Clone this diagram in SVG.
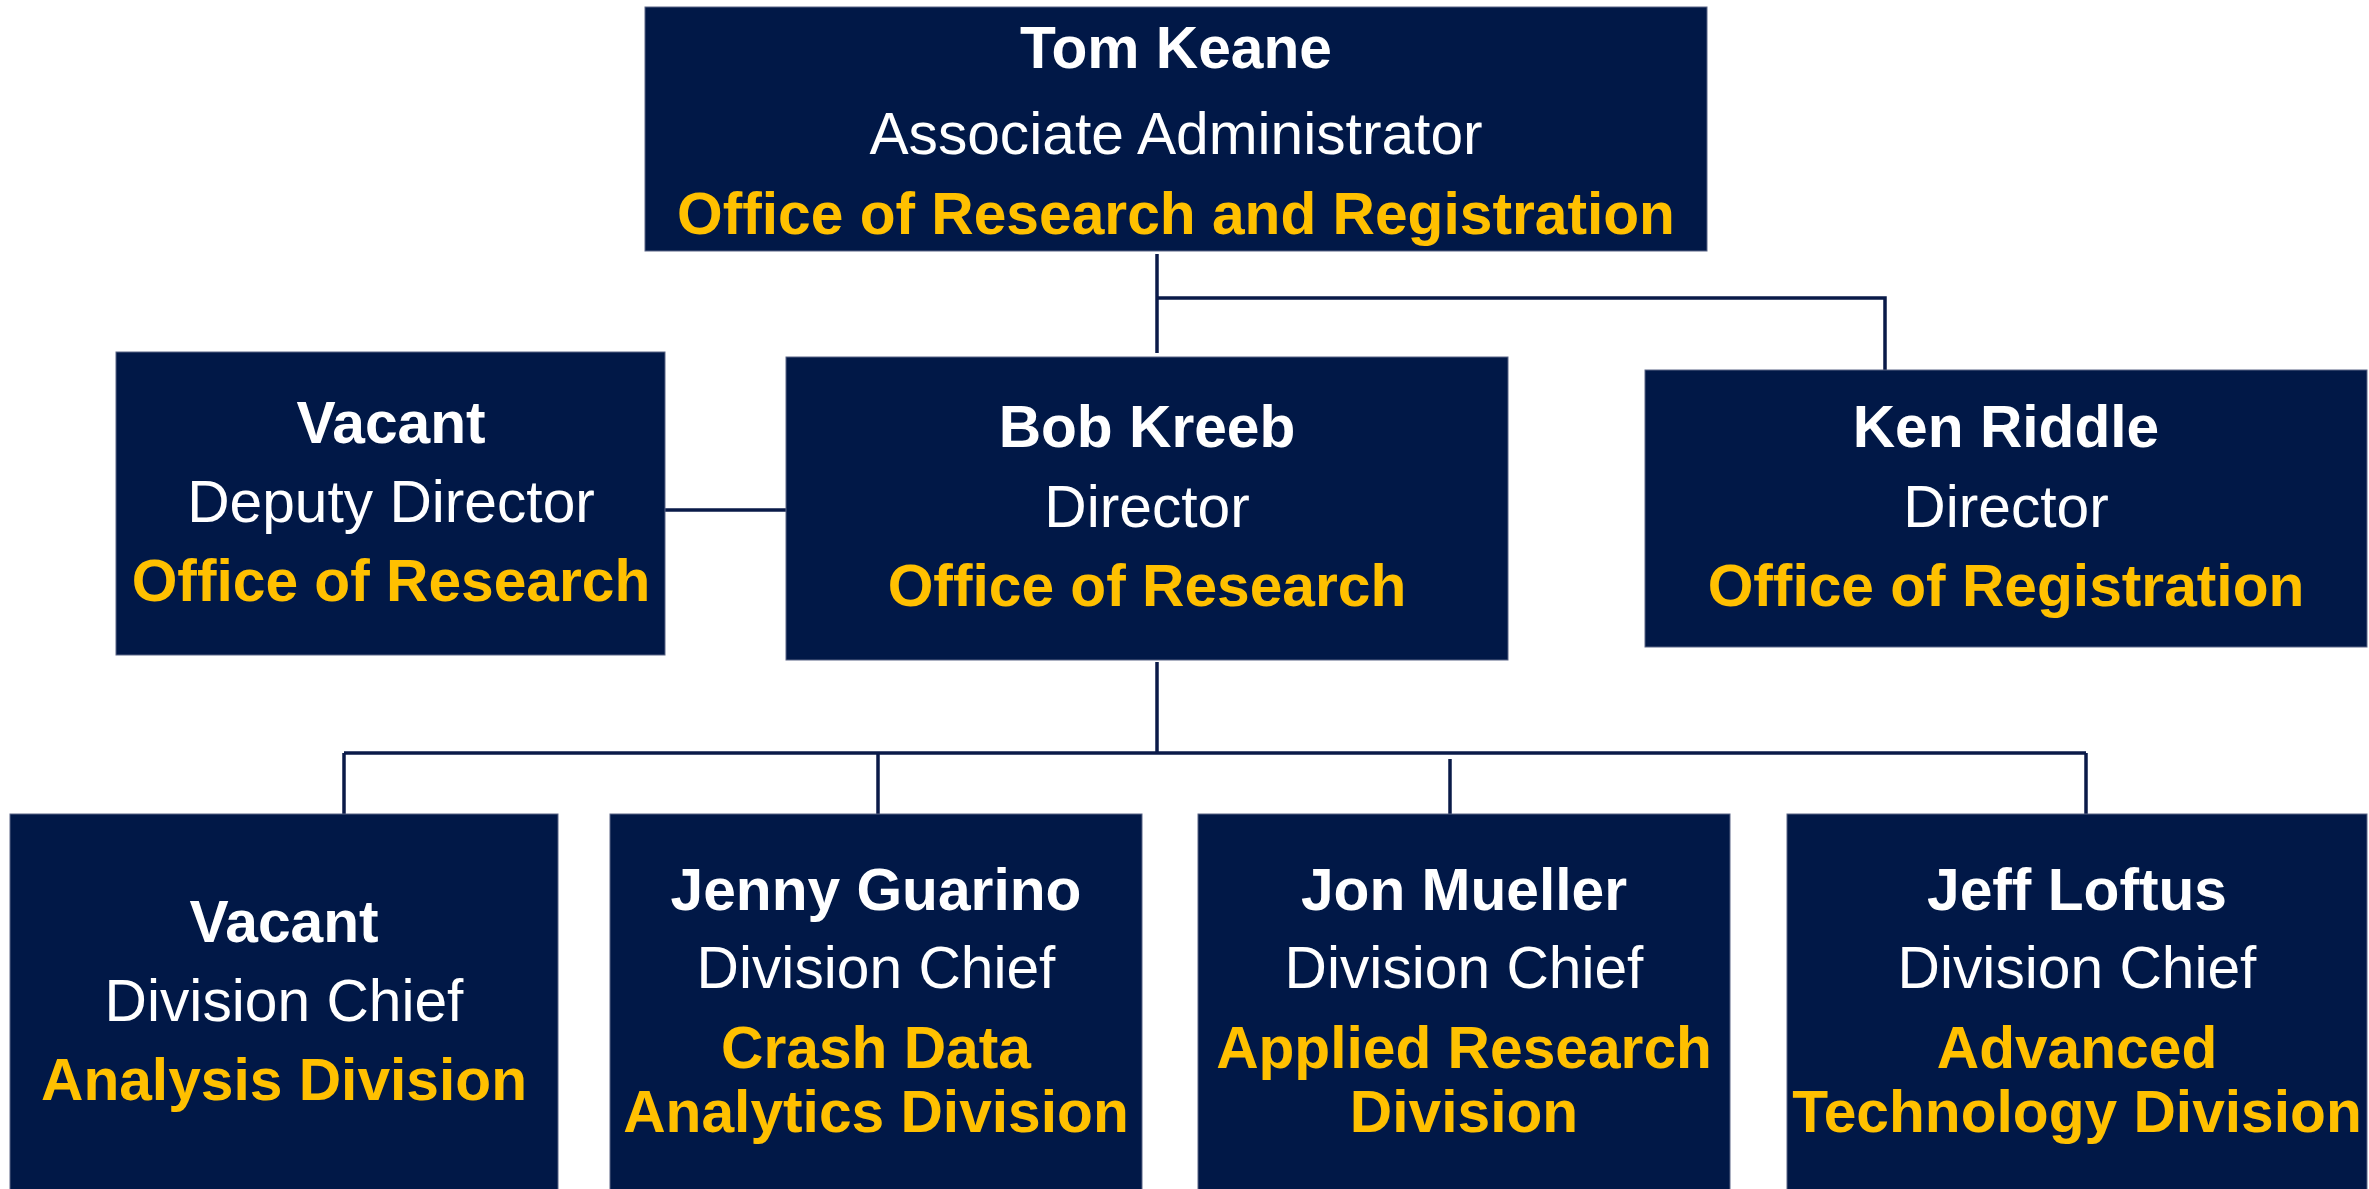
<svg xmlns="http://www.w3.org/2000/svg" width="2369" height="1189" viewBox="0 0 2369 1189">
<style>
.box{fill:#011847;stroke:#5a6486;stroke-width:1}
.conn{stroke:#0a1a48;stroke-width:3.5;fill:none}
text{font-family:"Liberation Sans",Arial,sans-serif;font-size:58.7px;text-anchor:middle}
.n{fill:#ffffff;font-weight:bold}
.t{fill:#ffffff}
.o{fill:#ffc000;font-weight:bold}
</style>
<rect width="2369" height="1189" fill="#ffffff"/>
<g id="connectors">
<line class="conn" x1="1157" y1="254" x2="1157" y2="353"/>
<polyline class="conn" points="1157,298 1885,298 1885,370"/>
<line class="conn" x1="665" y1="510" x2="786" y2="510"/>
<line class="conn" x1="1157" y1="662" x2="1157" y2="753"/>
<line class="conn" x1="344" y1="753" x2="2086" y2="753"/>
<line class="conn" x1="344" y1="753" x2="344" y2="814"/>
<line class="conn" x1="878" y1="753" x2="878" y2="814"/>
<line class="conn" x1="1450" y1="759" x2="1450" y2="814"/>
<line class="conn" x1="2086" y1="753" x2="2086" y2="814"/>
</g>
<g id="tom-keane">
<rect class="box" x="645" y="7" width="1062" height="244"/>
<text class="n" x="1176" y="68">Tom Keane</text>
<text class="t" x="1176" y="154">Associate Administrator</text>
<text class="o" x="1176" y="234">Office of Research and Registration</text>
</g>
<g id="vacant-deputy">
<rect class="box" x="116" y="352" width="549" height="303"/>
<text class="n" x="391" y="443">Vacant</text>
<text class="t" x="391" y="522">Deputy Director</text>
<text class="o" x="391" y="601">Office of Research</text>
</g>
<g id="bob-kreeb">
<rect class="box" x="786" y="357" width="722" height="303"/>
<text class="n" x="1147" y="447">Bob Kreeb</text>
<text class="t" x="1147" y="527">Director</text>
<text class="o" x="1147" y="606">Office of Research</text>
</g>
<g id="ken-riddle">
<rect class="box" x="1645" y="370" width="722" height="277"/>
<text class="n" x="2006" y="447">Ken Riddle</text>
<text class="t" x="2006" y="527">Director</text>
<text class="o" x="2006" y="606">Office of Registration</text>
</g>
<g id="analysis-division">
<rect class="box" x="10" y="814" width="548" height="380"/>
<text class="n" x="284" y="942">Vacant</text>
<text class="t" x="284" y="1021">Division Chief</text>
<text class="o" x="284" y="1100">Analysis Division</text>
</g>
<g id="crash-data">
<rect class="box" x="610" y="814" width="532" height="380"/>
<text class="n" x="876" y="910">Jenny Guarino</text>
<text class="t" x="876" y="988">Division Chief</text>
<text class="o" x="876" y="1068">Crash Data</text>
<text class="o" x="876" y="1132">Analytics Division</text>
</g>
<g id="applied-research">
<rect class="box" x="1198" y="814" width="532" height="380"/>
<text class="n" x="1464" y="910">Jon Mueller</text>
<text class="t" x="1464" y="988">Division Chief</text>
<text class="o" x="1464" y="1068">Applied Research</text>
<text class="o" x="1464" y="1132">Division</text>
</g>
<g id="advanced-technology">
<rect class="box" x="1787" y="814" width="580" height="380"/>
<text class="n" x="2077" y="910">Jeff Loftus</text>
<text class="t" x="2077" y="988">Division Chief</text>
<text class="o" x="2077" y="1068">Advanced</text>
<text class="o" x="2077" y="1132">Technology Division</text>
</g>
</svg>
